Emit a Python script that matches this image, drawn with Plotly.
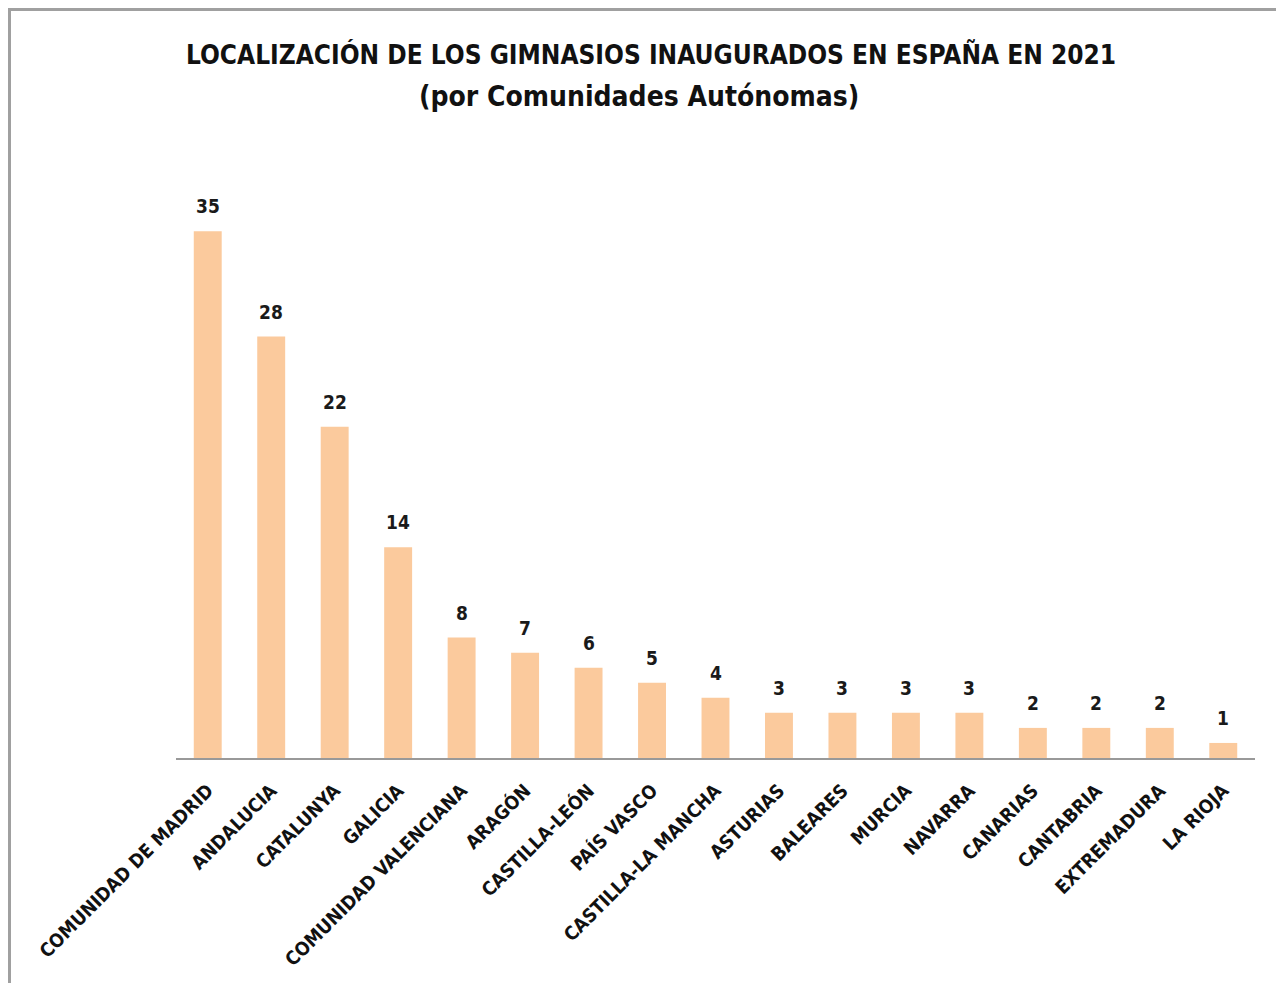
import plotly.graph_objects as go

categories = ["COMUNIDAD DE MADRID", "ANDALUCIA", "CATALUNYA", "GALICIA",
              "COMUNIDAD VALENCIANA", "ARAGÓN", "CASTILLA-LEÓN", "PAÍS VASCO",
              "CASTILLA-LA MANCHA", "ASTURIAS", "BALEARES", "MURCIA", "NAVARRA",
              "CANARIAS", "CANTABRIA", "EXTREMADURA", "LA RIOJA"]
values = [35, 28, 22, 14, 8, 7, 6, 5, 4, 3, 3, 3, 3, 2, 2, 2, 1]
title_lines = ["LOCALIZACIÓN DE LOS GIMNASIOS INAUGURADOS EN ESPAÑA EN 2021",
               "(por Comunidades Autónomas)"]

FONT = "DejaVu Sans Condensed, sans-serif"
L, R, T, B = 168, 29, 172, 225
W, H = 1276, 975
PW, PH = W - L - R, H - T - B

fig = go.Figure(go.Bar(
    x=categories, y=values,
    marker=dict(color="#FBCA9D", line=dict(width=0)),
    hoverinfo="x+y",
    cliponaxis=False,
))

annotations = []
for c, v in zip(categories, values):
    annotations.append(dict(x=c, y=v, xref="x", yref="y", text=f"<b>{v}</b>",
                            showarrow=False, yanchor="bottom", yshift=12,
                            font=dict(family=FONT, size=19, color="#1a1a1a")))
annotations.append(dict(x=(643 - L) / PW, y=(H - B - 47) / PH, xref="paper", yref="paper",
                        text=f"<b>{title_lines[0]}</b>", showarrow=False,
                        xanchor="center", yanchor="middle",
                        font=dict(family=FONT, size=26, color="#111111")))
annotations.append(dict(x=(631 - L) / PW, y=(H - B - 89) / PH, xref="paper", yref="paper",
                        text=f"<b>{title_lines[1]}</b>", showarrow=False,
                        xanchor="center", yanchor="middle",
                        font=dict(family=FONT, size=28, color="#111111")))

fig.update_layout(
    width=W, height=H,
    margin=dict(l=L, r=R, t=T, b=B),
    paper_bgcolor="white", plot_bgcolor="white",
    bargap=0.56,
    showlegend=False,
    xaxis=dict(
        tickangle=-45, showgrid=False, showline=True, linecolor="#999999", linewidth=2,
        ticks="", tickfont=dict(family=FONT, size=19, color="#111111"),
        tickprefix="<b>", ticksuffix="</b>", ticklabelstandoff=12,
    ),
    yaxis=dict(range=[0, 38.4], visible=False, showgrid=False, zeroline=False),
    annotations=annotations,
    shapes=[dict(type="rect", xref="paper", yref="paper",
                 x0=(-L + 1.5) / PW, x1=1.5, y0=-2, y1=(H - B - 1.5) / PH,
                 line=dict(color="#A0A0A0", width=3), fillcolor="rgba(0,0,0,0)", layer="below")],
)

fig.write_html("out.html")
